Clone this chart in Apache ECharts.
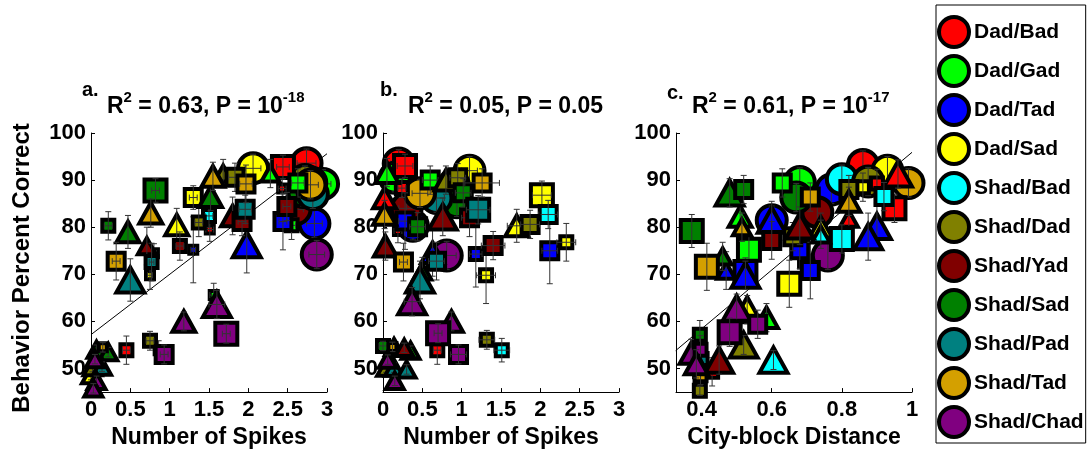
<!DOCTYPE html>
<html>
<head>
<meta charset="utf-8">
<script src="https://cdn.jsdelivr.net/npm/echarts@6/dist/echarts.min.js"></script>
<style>
  html, body { margin: 0; padding: 0; background: #fff; }
  #chart { width: 1090px; height: 454px; }
</style>
</head>
<body>
<div id="chart"></div>
<script>
// Stimulus pairs and their colours
const groupNames = ['Dad/Bad', 'Dad/Gad', 'Dad/Tad', 'Dad/Sad', 'Shad/Bad', 'Shad/Dad',
  'Shad/Yad', 'Shad/Sad', 'Shad/Pad', 'Shad/Tad', 'Shad/Chad'];
const groupColors = ['#ff0000', '#00ff00', '#0000ff', '#ffff00', '#00ffff', '#808000',
  '#800000', '#008000', '#008080', '#d4a000', '#800080'];

// Rows: [pair, marker (c = population, t / s = sites), x, percent correct, weight level, y error, x error]
const spikesA = [
  [0,'c',2.74,93.6,0,3,0.12], [0,'s',2.44,92.8,4,2.5,0.08], [0,'s',2.43,88.2,1,2,0.05],
  [0,'s',1.51,79.5,1,2.5,0.05], [0,'s',0.45,53.9,2,3,0.05],
  [1,'c',2.95,89.2,0,3,0.1], [1,'t',2.28,91.4,2,3,0], [1,'s',2.63,89.4,3,3,0.08],
  [1,'s',2.55,80.4,2,3,0.05], [1,'s',1.56,65.6,1,2.5,0.05],
  [2,'c',2.84,80.8,0,3,0.1], [2,'t',1.98,76.3,4,6,0], [2,'s',2.44,81.2,3,6,0.05],
  [2,'s',1.3,75.2,1,7,0.03], [2,'s',0.8,74.5,1,2,0.03],
  [3,'c',2.06,92.5,0,3,0.1], [3,'t',1.09,80.5,3,3.5,0], [3,'s',1.3,86.3,3,2.5,0.05],
  [3,'s',0.75,69.8,1,3,0.03], [3,'t',0.0,48.6,2,1,0],
  [4,'c',2.8,89.5,0,3,0.1], [4,'s',1.5,82.4,2,2.5,0.05], [4,'s',0.86,53.9,1,2,0.05],
  [5,'c',2.72,90,0,3,0.1], [5,'t',1.68,91.4,2,3,0], [5,'s',1.83,90.6,3,3,0.08],
  [5,'s',1.37,81,2,3,0.05], [5,'s',0.75,55.9,2,2,0.05], [5,'t',0.02,50.3,2,1,0],
  [6,'c',2.6,83.8,0,3,0.1], [6,'t',1.8,82.4,3,4,0], [6,'s',1.92,81.2,3,3,0.05],
  [6,'s',2.49,84.4,3,3,0.05], [6,'t',0.71,76,2,4,0], [6,'s',1.13,76,2,3,0.05],
  [7,'c',2.7,87.5,0,3,0.1], [7,'t',1.52,86.5,3,3,0], [7,'s',0.82,87.8,4,2.5,0.05],
  [7,'s',0.22,80.3,2,3,0.05], [7,'t',0.47,79,3,3.5,0], [7,'t',0.07,54,2,1,0],
  [7,'t',0.22,53.5,2,1,0],
  [8,'c',2.82,87,0,3,0.1], [8,'s',1.96,83.8,3,3,0.08], [8,'t',0.5,68.8,4,4.5,0],
  [8,'s',0.77,72.6,2,4,0.03], [8,'t',0.14,50.4,2,1,0],
  [9,'c',2.79,89,0,3,0.1], [9,'t',1.55,90.8,3,3,0], [9,'s',1.97,89.2,3,4,0.08],
  [9,'t',0.76,83,3,3,0], [9,'s',0.32,72.8,3,4,0.05], [9,'s',0.15,54.5,1,1,0],
  [10,'c',2.87,74.2,0,3,0.1], [10,'t',1.6,63.6,4,3,0.1], [10,'t',1.18,60,3,2,0],
  [10,'s',1.72,57.4,4,2,0.05], [10,'s',0.93,53,3,2,0.05], [10,'t',0.05,52,2,1,0],
  [10,'t',0.07,47.4,2,1,0], [10,'t',0.03,45.8,2,1,0]
];

const spikesB = [
  [0,'c',0.2,93.5,0,3,0.1], [0,'s',0.28,93,4,2.5,0.1], [0,'s',0.24,88.3,2,2,0.05],
  [0,'t',0.02,86.2,3,3,0], [0,'s',0.19,79.2,1,2.5,0.05], [0,'s',0.69,53.9,2,3,0.05],
  [1,'c',0.15,90.5,0,3,0.1], [1,'t',0.05,91.6,3,3,0], [1,'s',0.6,90,3,3,0.1],
  [1,'s',0.38,65.6,1,2.5,0.05], [1,'t',0.35,53.8,2,1,0],
  [2,'c',0.38,80.3,0,3,0.1], [2,'s',0.28,81.3,3,6,0.08], [2,'t',0.63,74.6,3,5,0],
  [2,'s',1.18,74.3,2,7,0.08], [2,'s',2.12,75,3,7,0.1],
  [3,'c',1.1,92,0,3,0.1], [3,'t',1.7,80.3,3,3.5,0.12], [3,'s',2.02,86.8,4,3,0.12],
  [3,'s',2.33,76.8,2,4,0.12], [3,'s',1.31,69.8,2,6,0.12],
  [4,'s',2.1,82.7,3,3,0.12], [4,'s',1.51,53.9,2,2.5,0.1],
  [5,'c',0.9,89,0,3,0.1], [5,'t',0.8,90,3,3,0], [5,'s',0.95,90.5,3,3,0.1],
  [5,'s',1.87,80.6,3,3,0.12], [5,'s',1.32,56.1,2,2,0.1], [5,'t',0.14,54.6,2,1,0],
  [5,'t',0.04,50.2,2,1,0],
  [6,'c',0.3,84,0,3,0.1], [6,'t',0.76,82.2,4,4,0], [6,'t',0.03,76,3,3,0],
  [6,'s',1.1,82,3,4,0.1], [6,'s',1.4,76.1,3,3,0.15], [6,'t',0.27,54.4,2,1,0],
  [7,'c',0.94,85.3,0,3,0.1], [7,'s',1.02,87.3,3,3,0.1], [7,'s',0.44,80.1,3,3,0.1],
  [7,'t',0.5,70.6,2,3,0], [7,'s',0.0,54.8,2,1,0.05],
  [8,'c',0.68,86.2,0,3,0.1], [8,'s',1.21,83.7,4,3,0.15], [8,'s',0.68,72.8,3,4,0.1],
  [8,'t',0.47,68.8,4,4,0], [8,'t',0.14,50.2,2,1,0], [8,'t',0.3,49.8,2,1,0],
  [9,'c',0.47,87.2,0,3,0.1], [9,'s',1.26,89.4,3,3,0.22], [9,'t',0.02,82.7,3,3,0],
  [9,'s',0.26,72.6,3,4,0.05], [9,'s',0.12,54.6,1,1,0],
  [10,'c',0.81,74,0,3,0.12], [10,'t',0.37,64.2,4,3,0.1], [10,'t',0.87,60,3,2,0],
  [10,'s',0.7,57.5,4,2,0.05], [10,'s',0.96,53,3,2,0.1], [10,'t',0.06,51.9,2,1,0],
  [10,'t',0.15,47.4,2,1,0]
];

const distanceC = [
  [0,'c',0.86,93.2,0,3,0], [0,'t',0.96,91.3,4,3,0], [0,'s',0.9,89.3,2,3,0],
  [0,'s',0.95,84,4,3,0], [0,'t',0.82,81.8,2,3,0], [0,'s',0.695,72.7,2,3,0],
  [0,'s',0.43,49.3,2,3,0],
  [1,'c',0.68,89.6,0,3,0], [1,'s',0.63,89.4,3,3,0], [1,'t',0.51,82.3,3,3,0],
  [1,'s',0.535,75.2,4,3,0], [1,'t',0.585,60.8,3,3,0],
  [2,'c',0.77,88,0,3,0], [2,'c',0.6,81.5,0,3,0], [2,'t',0.6,81.5,4,4,0],
  [2,'t',0.9,80.2,4,5,0], [2,'t',0.875,78,4,5,0], [2,'s',0.68,75.2,3,4,0],
  [2,'s',0.71,70.8,3,6,0], [2,'t',0.47,70.8,2,4,0], [2,'s',0.525,70.5,4,3,0],
  [2,'t',0.525,69.8,4,3,0], [2,'s',0.39,49,1,2,0],
  [3,'c',0.93,92,0,3,0], [3,'s',0.86,88.5,2,3,0], [3,'t',0.74,80,3,3,0],
  [3,'s',0.65,68,4,5,0], [3,'t',0.53,62.5,4,3,0],
  [4,'c',0.8,90.2,0,3,0], [4,'s',0.92,86.5,3,3,0], [4,'s',0.8,77.5,4,3,0],
  [4,'t',0.74,78.5,2,3,0], [4,'t',0.605,51.8,4,2,0],
  [5,'c',0.875,89.7,0,3,0], [5,'s',0.82,88,3,3,0], [5,'s',0.66,78,3,3,0],
  [5,'t',0.52,55,4,2,0], [5,'s',0.395,45.3,2,1,0],
  [6,'c',0.73,83.2,0,3,0], [6,'t',0.68,80.3,4,4,0], [6,'s',0.6,77.2,3,4,0],
  [6,'t',0.45,51.8,4,3,0],
  [7,'c',0.67,86.3,0,3,0], [7,'s',0.372,79.2,4,3.5,0], [7,'t',0.48,87.3,4,3,0],
  [7,'s',0.52,88,3,3,0], [7,'t',0.46,73.8,2,3,0], [7,'s',0.395,57.2,2,3,0],
  [8,'s',0.4,52,2,1,0],
  [9,'c',0.99,89.4,0,3,0], [9,'s',0.71,86.4,3,3,0], [9,'t',0.82,85.5,3,3,0],
  [9,'t',0.515,80,2,3,0], [9,'s',0.415,71.6,4,5,0], [9,'s',0.397,48.6,2,2,0],
  [10,'c',0.76,74,0,3,0], [10,'t',0.5,62.8,4,3,0], [10,'s',0.48,57.7,4,3,0],
  [10,'s',0.56,59.4,3,3,0], [10,'t',0.37,53.2,3,3,0], [10,'s',0.397,54,2,3,0],
  [10,'t',0.385,51,3,3,0]
];

// Least-squares fits (end points)
const fitA = [[0, 57.2], [3, 95.6]];
const fitC = [[0.326, 53.8], [1, 95.9]];

// Axis ticks and panel headings
const yTicks = [50, 60, 70, 80, 90, 100];
const xTicksC = [0.4, 0.6, 0.8, 1];
const panelTags = ['a.', 'b.', 'c.'];
const panelStats = [
  { r2: '0.63', p: '10', pExp: '-18' },
  { r2: '0.05', p: '0.05', pExp: '' },
  { r2: '0.61', p: '10', pExp: '-17' }
];

const FONT = '"Liberation Sans", Arial, Helvetica, sans-serif';
const SHAPES = { c: 0, t: 1, s: 2 };
const SQUARE_PX = [0, 12, 16, 21, 26];
const TRI_PX = [0, 18, 22, 27, 32];
const CIRCLE_PX = 34;
const STROKE = 4;

function renderMark(params, api) {
  const x = api.value(0), y = api.value(1);
  const shape = api.value(2), level = api.value(3);
  const ey = api.value(4), ex = api.value(5);
  const c = api.coord([x, y]);
  const fill = api.visual('color');
  const markStyle = { fill: fill, stroke: '#000', lineWidth: STROKE, lineJoin: 'miter' };
  const children = [];
  if (shape === 0) {
    children.push({ type: 'circle', shape: { cx: c[0], cy: c[1], r: (CIRCLE_PX - STROKE) / 2 }, style: markStyle });
  } else if (shape === 1) {
    const s = TRI_PX[level] - STROKE, h = s * 0.9;
    children.push({ type: 'polygon', shape: { points: [[c[0], c[1] - h / 2], [c[0] + s / 2, c[1] + h / 2], [c[0] - s / 2, c[1] + h / 2]] }, style: markStyle });
  } else {
    const s = SQUARE_PX[level] - STROKE;
    children.push({ type: 'rect', shape: { x: c[0] - s / 2, y: c[1] - s / 2, width: s, height: s }, style: markStyle });
  }
  const bar = { stroke: '#333', lineWidth: 1, fill: null };
  const cap = 3;
  if (ey > 0) {
    const t = api.coord([x, y + ey])[1], b = api.coord([x, y - ey])[1];
    children.push({ type: 'line', shape: { x1: c[0], y1: t, x2: c[0], y2: b }, style: bar });
    children.push({ type: 'line', shape: { x1: c[0] - cap, y1: t, x2: c[0] + cap, y2: t }, style: bar });
    children.push({ type: 'line', shape: { x1: c[0] - cap, y1: b, x2: c[0] + cap, y2: b }, style: bar });
  }
  if (ex > 0) {
    const l = api.coord([x - ex, y])[0], r = api.coord([x + ex, y])[0];
    children.push({ type: 'line', shape: { x1: l, y1: c[1], x2: r, y2: c[1] }, style: bar });
    children.push({ type: 'line', shape: { x1: l, y1: c[1] - cap, x2: l, y2: c[1] + cap }, style: bar });
    children.push({ type: 'line', shape: { x1: r, y1: c[1] - cap, x2: r, y2: c[1] + cap }, style: bar });
  }
  return { type: 'group', children: children };
}

const panels = [spikesA, spikesB, distanceC];
const gridLefts = [91, 383, 676];

const labelStyle = { fontSize: 22, fontWeight: 'bold', color: '#000', fontFamily: FONT };
const nameStyle = { fontSize: 23, fontWeight: 'bold', color: '#000', fontFamily: FONT };
const axisLine = { show: true, lineStyle: { color: '#000', width: 1 } };

const grid = gridLefts.map(l => ({ left: l, top: 133, width: 236, height: 262 }));

const xAxis = [0, 1, 2].map(i => {
  const base = {
    type: 'value', gridIndex: i,
    axisLine: axisLine, splitLine: { show: false },
    axisLabel: Object.assign({ margin: 7 }, labelStyle),
    axisTick: { inside: true, length: 4, lineStyle: { color: '#000' } },
    nameLocation: 'middle', nameGap: 31, nameTextStyle: nameStyle
  };
  if (i < 2) {
    return Object.assign(base, { min: 0, max: 3, interval: 0.5, name: 'Number of Spikes' });
  }
  base.axisLabel.customValues = xTicksC;
  base.axisTick.customValues = xTicksC;
  return Object.assign(base, { min: 0.327, max: 1, name: 'City-block Distance' });
});

const yAxis = [0, 1, 2].map(i => ({
  type: 'value', gridIndex: i, min: 45, max: 100,
  axisLine: axisLine, splitLine: { show: false },
  axisLabel: Object.assign({ margin: 5, customValues: yTicks }, labelStyle),
  axisTick: { inside: true, length: 4, customValues: yTicks, lineStyle: { color: '#000' } }
}));

const series = [
  { type: 'line', xAxisIndex: 0, yAxisIndex: 0, data: fitA, symbol: 'none', silent: true, z: 1,
    lineStyle: { color: '#000', width: 1 } },
  { type: 'line', xAxisIndex: 2, yAxisIndex: 2, data: fitC, symbol: 'none', silent: true, z: 1,
    lineStyle: { color: '#000', width: 1 } }
];
// Population circles sit underneath the per-site triangles and squares
panels.forEach((rows, p) => {
  [['c'], ['t', 's']].forEach((kinds, layer) => {
    groupNames.forEach((name, g) => {
      const data = rows.filter(r => r[0] === g && kinds.indexOf(r[1]) >= 0)
        .map(r => [r[2], r[3], SHAPES[r[1]], r[4], r[5], r[6]]);
      series.push({
        type: 'custom', name: name, xAxisIndex: p, yAxisIndex: p, z: 2 + layer,
        itemStyle: { color: groupColors[g] },
        encode: { x: 0, y: 1 },
        renderItem: renderMark,
        data: data
      });
    });
  });
});

const headX = [[82, 107], [380, 408], [667, 692]];
const headTagY = [90.5, 90.5, 93.5];
const graphic = [{
  type: 'text', x: 22, y: 268, rotation: Math.PI / 2, silent: true,
  style: { text: 'Behavior Percent Correct', fill: '#000', font: 'bold 24px ' + FONT,
    align: 'center', verticalAlign: 'middle' }
}];
panelStats.forEach((st, i) => {
  graphic.push({ type: 'text', x: headX[i][0], y: headTagY[i], silent: true,
    style: { text: panelTags[i], fill: '#000', font: 'bold 20px ' + FONT, align: 'left', verticalAlign: 'middle' } });
  let txt = '{m|R}{s|2}{m| = ' + st.r2 + ', P = ' + st.p + '}';
  if (st.pExp) txt += '{s|' + st.pExp + '}';
  graphic.push({ type: 'text', x: headX[i][1], y: 107, silent: true,
    style: {
      text: txt, align: 'left', verticalAlign: 'middle', fill: '#000',
      rich: {
        m: { fontSize: 23, fontWeight: 'bold', fontFamily: FONT, lineHeight: 34, fill: '#000' },
        s: { fontSize: 15, fontWeight: 'bold', fontFamily: FONT, lineHeight: 14, verticalAlign: 'top', fill: '#000' }
      }
    } });
});

const chart = echarts.init(document.getElementById('chart'), null, { renderer: 'canvas' });
chart.setOption({
  animation: false,
  backgroundColor: '#fff',
  grid: grid,
  xAxis: xAxis,
  yAxis: yAxis,
  legend: {
    data: groupNames, orient: 'vertical', left: 936, top: 5, height: 440,
    icon: 'circle', itemWidth: 30, itemHeight: 30, itemGap: 5,
    itemStyle: { borderColor: '#000', borderWidth: 4 },
    textStyle: { fontSize: 21, fontWeight: 'bold', color: '#000', fontFamily: FONT },
    borderColor: '#000', borderWidth: 1, padding: [10, 2, 4, 1],
    selectedMode: false
  },
  graphic: graphic,
  series: series
});
</script>
</body>
</html>
